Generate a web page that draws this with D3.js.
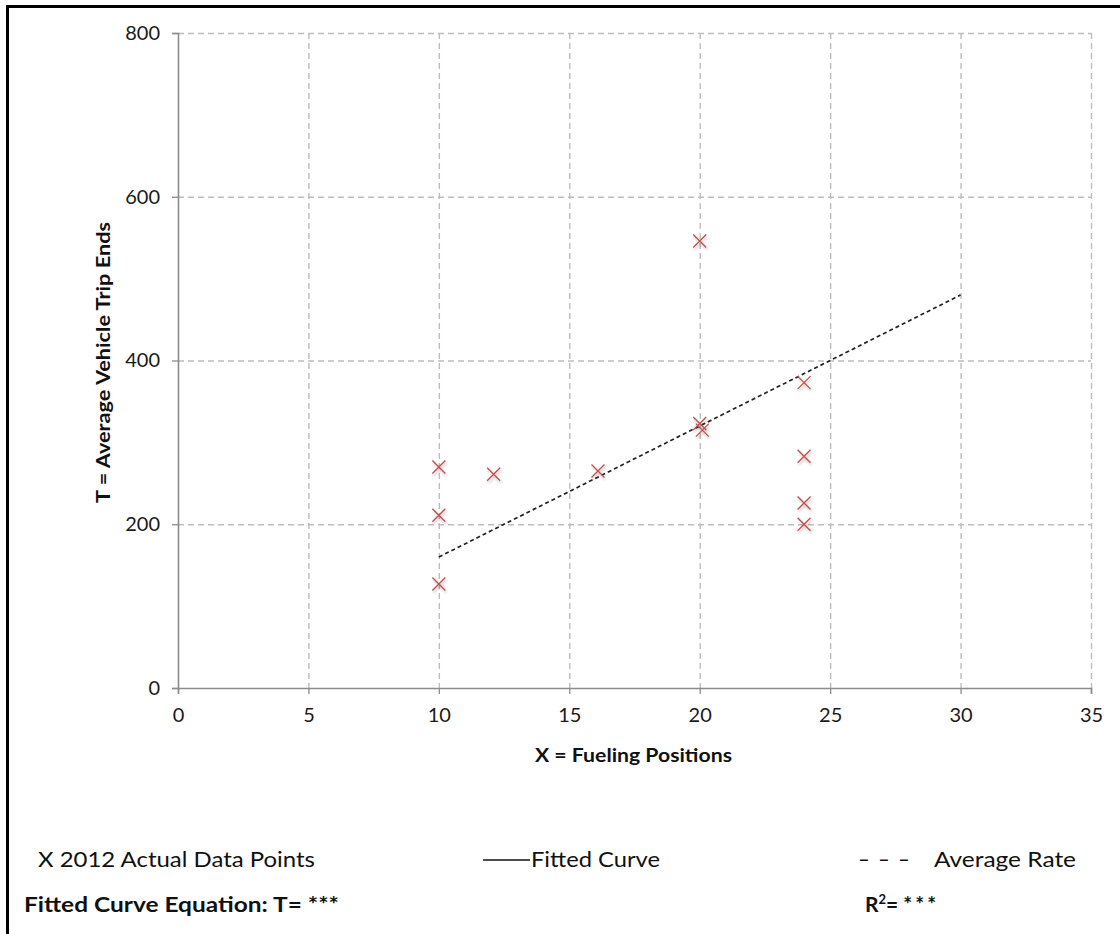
<!DOCTYPE html>
<html>
<head>
<meta charset="utf-8">
<script src="https://cdn.jsdelivr.net/npm/d3@7"></script>
<style>
	body { margin: 0; background: #fff; }
	svg { display: block; }
</style>
</head>
<body>
<div id="chart"></div>
<script>
// data
const xVals = [ 10, 10, 10, 12.1, 16.1, 20, 20, 20.1, 24, 24, 24, 24 ];
const tVals = [ 270, 211, 127, 261, 265, 546, 323, 315, 373, 283, 226, 200 ];
const avgRate = 16.0; // trip ends per fueling position
const avgRange = [ 10, 30 ];
const xTicks = [ 0, 5, 10, 15, 20, 25, 30, 35 ];
const yTicks = [ 0, 200, 400, 600, 800 ];

const W = 1120;
const H = 934;
const margin = { top: 33, right: 29, bottom: 246, left: 178 };
const width = W - margin.left - margin.right;
const height = H - margin.top - margin.bottom;
const font = 'Lato, sans-serif';

const svg = d3.select('#chart').append('svg').attr('width', W).attr('height', H);

// drop shadow for the markers
const defs = svg.append('defs');
const f = defs.append('filter').attr('id', 'shadow').attr('x', '-50%').attr('y', '-50%').attr('width', '200%').attr('height', '200%');
f.append('feGaussianBlur').attr('in', 'SourceAlpha').attr('stdDeviation', 1.6);
f.append('feOffset').attr('dx', 1).attr('dy', 2).attr('result', 'blur');
f.append('feComponentTransfer').append('feFuncA').attr('type', 'linear').attr('slope', 0.3);
const merge = f.append('feMerge');
merge.append('feMergeNode');
merge.append('feMergeNode').attr('in', 'SourceGraphic');

// outer frame (top and left only)
svg.append('path')
	.attr('d', `M7.5,${H} V6.5 H${W}`)
	.attr('fill', 'none')
	.attr('stroke', '#000')
	.attr('stroke-width', 3);

const g = svg.append('g').attr('transform', `translate(${margin.left}, ${margin.top})`);

const x = d3.scaleLinear().domain([ 0, 35 ]).range([ 0, width ]);
const y = d3.scaleLinear().domain([ 0, 800 ]).range([ height, 0 ]);

// gridlines
g.selectAll('.vgrid')
	.data(xTicks.filter((d) => d > 0))
	.enter()
	.append('line')
	.attr('x1', (d) => x(d) + 0.5)
	.attr('x2', (d) => x(d) + 0.5)
	.attr('y1', 0)
	.attr('y2', height)
	.attr('stroke', '#bdbdbd')
	.attr('stroke-width', 1.4)
	.attr('stroke-dasharray', '6,4');
g.selectAll('.hgrid')
	.data(yTicks.filter((d) => d > 0))
	.enter()
	.append('line')
	.attr('x1', 0)
	.attr('x2', width)
	.attr('y1', (d) => y(d) + 0.5)
	.attr('y2', (d) => y(d) + 0.5)
	.attr('stroke', '#bdbdbd')
	.attr('stroke-width', 1.4)
	.attr('stroke-dasharray', '6,4');

// axes
const xAxis = g.append('g')
	.attr('transform', `translate(0, ${height})`)
	.call(d3.axisBottom(x).tickValues(xTicks).tickSize(6).tickPadding(14).tickFormat(d3.format('d')));
const yAxis = g.append('g')
	.call(d3.axisLeft(y).tickValues(yTicks).tickSize(6).tickPadding(12).tickFormat(d3.format('d')));
[ xAxis, yAxis ].forEach((a) => {
	a.select('.domain').attr('stroke', '#8c8c8c').attr('stroke-width', 1.6);
	a.selectAll('.tick line').attr('stroke', '#8c8c8c').attr('stroke-width', 1.3);
	a.selectAll('.tick text')
		.attr('font-family', font)
		.attr('font-size', 20)
		.attr('fill', '#1a1a1a');
});

// text with a fixed width, to match the wide rendering of the original
function fitText(parent, str, len, size, bold) {
	return parent.append('text')
		.attr('font-family', font)
		.attr('font-size', size)
		.attr('font-weight', bold ? 'bold' : 'normal')
		.attr('fill', '#111')
		.attr('textLength', len)
		.attr('lengthAdjust', 'spacingAndGlyphs')
		.text(str);
}

// axis titles
fitText(g, 'X = Fueling Positions', 197, 19, true)
	.attr('x', 535 - margin.left)
	.attr('y', height + 74);
fitText(g, 'T = Average Vehicle Trip Ends', 281, 19, true)
	.attr('transform', `translate(${110 - margin.left}, ${503 - margin.top}) rotate(-90)`);

// average rate line
g.append('line')
	.attr('x1', x(avgRange[0]))
	.attr('y1', y(avgRange[0] * avgRate))
	.attr('x2', x(avgRange[1]))
	.attr('y2', y(avgRange[1] * avgRate))
	.attr('stroke', '#222')
	.attr('stroke-width', 1.7)
	.attr('stroke-dasharray', '4,3');

// data points
const s = 6.5;
g.selectAll('.pt')
	.data(d3.zip(xVals, tVals))
	.enter()
	.append('path')
	.attr('d', (d) => {
		const cx = x(d[0]);
		const cy = y(d[1]);
		return `M${cx - s},${cy - s}L${cx + s},${cy + s}M${cx - s},${cy + s}L${cx + s},${cy - s}`;
	})
	.attr('stroke', '#c0504d')
	.attr('stroke-width', 1.3)
	.attr('fill', 'none')
	.attr('filter', 'url(#shadow)');

// legend & notes
fitText(svg, 'X  2012  Actual Data Points', 277, 21).attr('x', 38).attr('y', 867);
svg.append('line')
	.attr('x1', 483)
	.attr('x2', 530)
	.attr('y1', 860)
	.attr('y2', 860)
	.attr('stroke', '#111')
	.attr('stroke-width', 1.5);
fitText(svg, 'Fitted Curve', 129, 21).attr('x', 531).attr('y', 867);
fitText(svg, '- - -', 52, 21).attr('x', 858).attr('y', 867);
fitText(svg, 'Average Rate', 142, 21).attr('x', 934).attr('y', 867);
fitText(svg, 'Fitted Curve Equation: T= ***', 315, 21, true).attr('x', 24).attr('y', 912);
const r2 = svg.append('text')
	.attr('x', 865)
	.attr('y', 912)
	.attr('font-family', font)
	.attr('font-size', 21)
	.attr('font-weight', 'bold')
	.attr('fill', '#111')
	.text('R');
r2.append('tspan').attr('dy', -8).attr('font-size', 13).text('2');
r2.append('tspan').attr('dy', 8).text('= ');
r2.append('tspan').attr('letter-spacing', 3).text('***');
</script>
</body>
</html>
